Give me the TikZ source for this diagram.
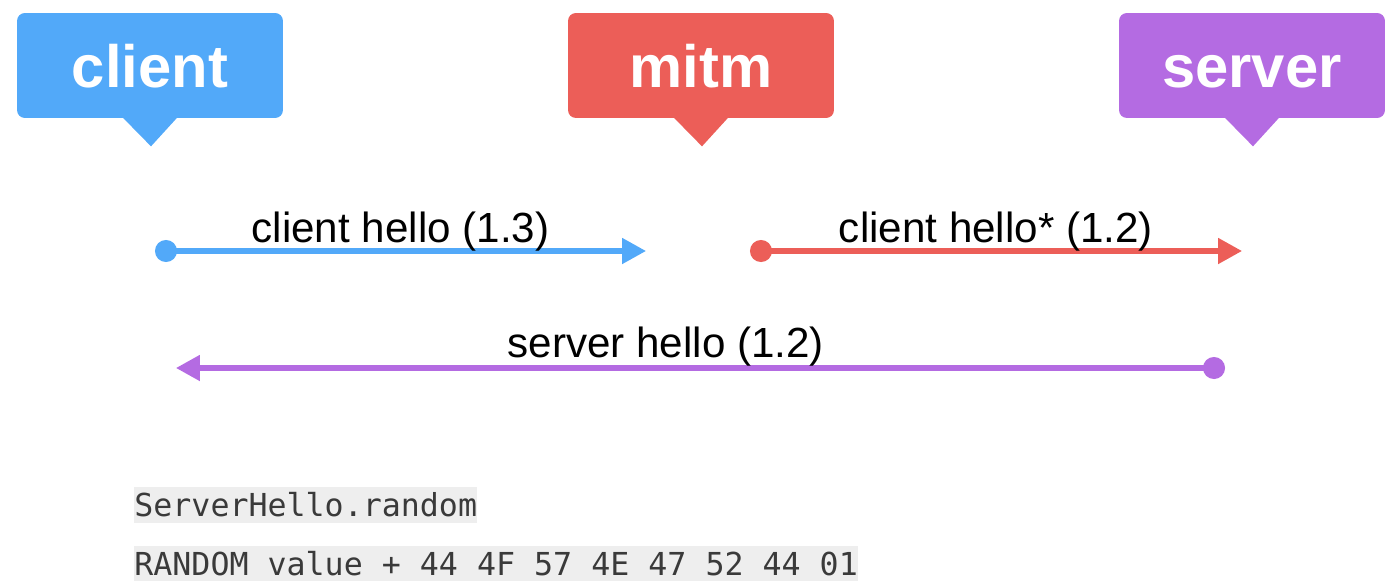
\documentclass[tikz,border=0pt]{standalone}
\usepackage{fontspec}
\setmainfont{Liberation Sans}
\setmonofont{DejaVu Sans Mono}
\usetikzlibrary{arrows.meta,calc}
\definecolor{blx}{HTML}{52A9F9}
\definecolor{rdx}{HTML}{EC5E58}
\definecolor{pux}{HTML}{B46BE2}
\definecolor{cdx}{HTML}{EEEEEE}
\definecolor{tdx}{HTML}{3A3A3A}
\tikzset{
    actor/.style={rounded corners=4.5pt,minimum width=5.32cm,minimum height=2.1cm,inner sep=0pt,text height=24.5pt,text depth=0pt,text=white,font=\fontsize{34}{40}\selectfont\bfseries},
    msg/.style={line width=2.9pt,{Circle[length=0.44cm,width=0.44cm]}-{Triangle[length=0.48cm,width=0.5cm]}},
    msglabel/.style={anchor=base,inner sep=0pt,font=\fontsize{24}{28}\selectfont},
    codebox/.style={fill=cdx,text=tdx,anchor=west,inner xsep=0pt,inner ysep=0pt,minimum height=0.72cm,font=\ttfamily\fontsize{18}{22}\selectfont}
}
\begin{document}
\begin{tikzpicture}[x=0.02cm,y=-0.02cm]
    \useasboundingbox (0,0) rectangle (1397,581);
    \foreach \nm/\cx/\col in {client/150/blx,mitm/701/rdx,server/1252/pux} {
        \node [actor,fill=\col] (\nm) at (\cx,65.5) {\nm};
        \fill [\col] ($(\nm.south)+(-27,-0.5)$) -- ++(28,28.5) -- ++(26,-28.5) -- cycle;
    }
    \coordinate (ch0) at (155,251);
    \coordinate (ch1) at (646,251);
    \coordinate (cs0) at (750,251);
    \coordinate (cs1) at (1242,251);
    \coordinate (sh0) at (1225,368);
    \coordinate (sh1) at (176,368);
    \draw [msg,blx] (ch0) -- (ch1)
        node [msglabel,text=black,pos=0.5,yshift=0.18cm] (chl) {client hello (1.3)};
    \draw [msg,rdx] (cs0) -- (cs1)
        node [msglabel,text=black,pos=0.5,yshift=0.18cm] (csl) {client hello* (1.2)};
    \draw [msg,pux] (sh0) -- (sh1)
        node [msglabel,text=black,pos=0.533,yshift=0.22cm] (shl) {server hello (1.2)};
    \node [codebox] (rnd) at (134,505) {ServerHello.random};
    \node [codebox] (val) at (134,564) {RANDOM value + 44 4F 57 4E 47 52 44 01};
\end{tikzpicture}
\end{document}
